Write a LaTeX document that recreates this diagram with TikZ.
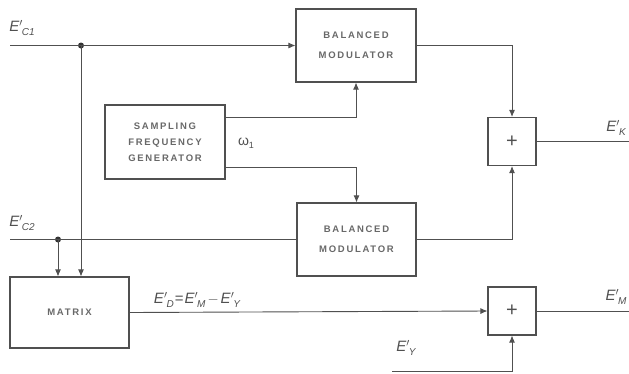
\documentclass[tikz,border=0pt]{standalone}
\usepackage{fontspec}
\usepackage{amsmath}
\setmainfont{Liberation Sans}
\newfontfamily\boxfont[LetterSpace=18]{Liberation Sans}
\usetikzlibrary{arrows.meta}
\definecolor{lc}{HTML}{505050}
\definecolor{tc}{HTML}{686868}
\newcommand\Esig[1]{\textit{E}$'$\kern-1pt\raisebox{-3.5pt}{\fontsize{10}{10}\selectfont\itshape #1}}
\begin{document}
\begin{tikzpicture}[x=1pt,y=-1pt,
  box/.style={draw=lc, line width=1.1pt, inner sep=0pt, align=center, text=tc,
    font=\boxfont\bfseries\fontsize{9.5}{20}\selectfont},
  sumbox/.style={draw=lc, line width=1.1pt, inner sep=0pt, text=lc,
    minimum width=48pt, minimum height=48pt, font=\fontsize{20}{20}\selectfont},
  wire/.style={draw=lc, line width=0.9pt},
  arr/.style={wire, -{Latex[length=7pt,width=6pt]}},
  lab/.style={text=lc, font=\fontsize{15}{15}\selectfont, inner sep=0pt},
  junction/.style={circle, fill=black!80, inner sep=0pt, minimum size=6pt}]
\useasboundingbox (0,0) rectangle (629,373);

\node[box, minimum width=120pt, minimum height=73pt] (topmod) at (356,45.5) {BALANCED\\MODULATOR};
\node[box, minimum width=120pt, minimum height=74pt, font=\boxfont\bfseries\fontsize{9.5}{16}\selectfont] (gen) at (165,142) {SAMPLING\\FREQUENCY\\GENERATOR};
\node[box, minimum width=119pt, minimum height=73pt] (botmod) at (356.5,239.5) {BALANCED\\MODULATOR};
\node[box, minimum width=119pt, minimum height=71pt] (matrix) at (69.5,312.5) {MATRIX};
\node[sumbox] (plus1) at (512,141.5) {+};
\node[sumbox] (plus2) at (512,311) {+};

\coordinate (c1in) at (10,45.5);
\coordinate (c2in) at (10,239.5);
\node[junction] (dot1) at (81,45.5) {};
\node[junction] (dot2) at (58,239.5) {};
\coordinate (out1) at (629,141.5);
\coordinate (out2) at (629,311);
\coordinate (eyin) at (392,371.5);

\draw[arr] (c1in) -- (topmod.west);
\draw[arr] (dot1.center) -- (dot1 |- matrix.north);
\draw[wire] (c2in) -- (botmod.west);
\draw[arr] (dot2.center) -- (dot2 |- matrix.north);
\draw[arr] (gen.east |- 0,117.5) -| (topmod.south);
\draw[arr] (gen.east |- 0,167.5) -| (botmod.north);
\draw[arr] (topmod.east) -| (plus1.north);
\draw[arr] (botmod.east) -| (plus1.south);
\draw[wire] (plus1.east) -- (out1);
\draw[arr] (matrix.east) -- (plus2.west);
\draw[wire] (plus2.east) -- (out2);
\draw[arr] (eyin) -| (plus2.south);

\node[lab] (lc1) at (22,28) {\Esig{C1}};
\node[lab] (lc2) at (22,223) {\Esig{C2}};
\node[lab] (lk) at (616,128) {\Esig{K}};
\node[lab] (lm) at (616,297) {\Esig{M}};
\node[lab] (ly) at (406,348) {\Esig{Y}};
\node[lab] (ld) at (197,300) {\Esig{D}\kern1pt=\kern1pt\Esig{M}\kern2pt$-$\kern2pt\Esig{Y}};
\node[lab, font=\fontsize{14}{14}\selectfont] (lw) at (246,143) {ω\raisebox{-3pt}{\fontsize{9}{9}\selectfont 1}};
\end{tikzpicture}
\end{document}
